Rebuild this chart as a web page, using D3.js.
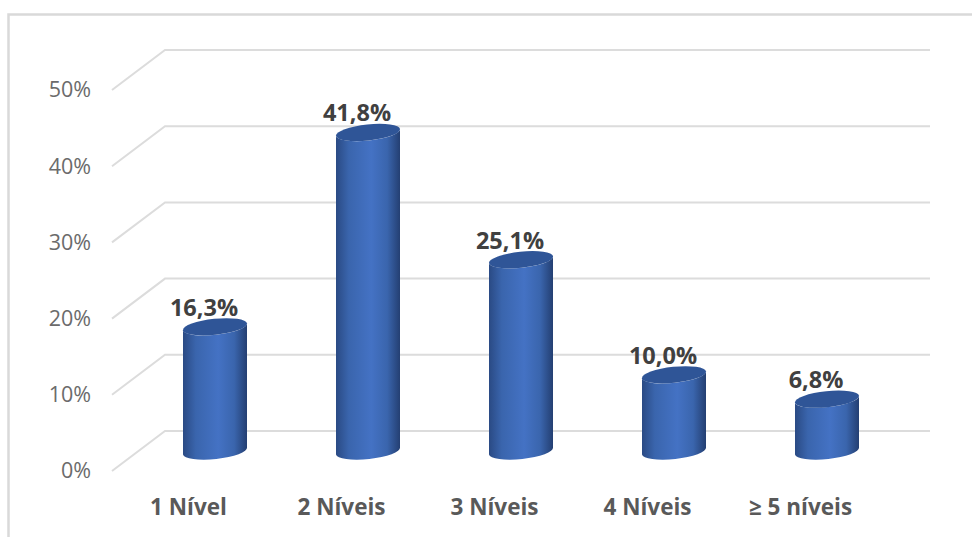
<!DOCTYPE html>
<meta charset="utf-8">
<style>
  body { margin: 0; background: #fff; }
  text { font-family: "Open Sans", "Noto Sans", sans-serif; }
</style>

<!-- Load d3.js -->
<script src="https://d3js.org/d3.v7.min.js"></script>

<div id="my_dataviz"></div>
<script>

// data
var categories = ["1 Nível", "2 Níveis", "3 Níveis", "4 Níveis", "≥ 5 níveis"];
var values = [16.3, 41.8, 25.1, 10.0, 6.8];
var valueLabels = ["16,3%", "41,8%", "25,1%", "10,0%", "6,8%"];
var yTicks = [0, 10, 20, 30, 40, 50];

var width = 972, height = 537;

// floor of the 3D box: front edge is where the axes sit, the wall is pushed back by depth
var depth = {x: 53, y: -40};
var front = {left: 112, right: 877, bottom: 471, top: 90};

var svg = d3.select("#my_dataviz")
  .append("svg")
    .attr("width", width)
    .attr("height", height)
    .style("display", "block");

// chart frame, runs off the right and bottom of the page
svg.append("path")
    .attr("d", "M8.5," + height + "V14.5H" + width)
    .attr("fill", "none")
    .attr("stroke", "#d9d9d9")
    .attr("stroke-width", 2.5);

var x = d3.scaleBand().domain(categories).range([front.left, front.right]);
var y = d3.scaleLinear().domain([0, 50]).range([front.bottom, front.top]);

// gridlines: short diagonal on the side wall, then along the back wall
svg.selectAll("path.grid")
  .data(yTicks)
  .enter()
  .append("path")
    .attr("class", "grid")
    .attr("d", function(d) {
      return "M" + front.left + "," + y(d)
        + "L" + (front.left + depth.x) + "," + (y(d) + depth.y)
        + "H" + (front.right + depth.x);
    })
    .attr("fill", "none")
    .attr("stroke", "#dcdcdc")
    .attr("stroke-width", 2);

// y axis
var yAxis = svg.append("g")
    .attr("transform", "translate(" + (front.left - 13) + ",0)")
    .call(d3.axisLeft(y).tickValues(yTicks).tickSize(0).tickPadding(8)
      .tickFormat(function(d) { return d + "%"; }));
yAxis.select(".domain").remove();
yAxis.selectAll("text")
    .attr("fill", "#6b6b6b")
    .style("font-size", "21.5px")
    .style("font-family", "'Open Sans', sans-serif");

// x axis
var xAxis = svg.append("g")
    .attr("transform", "translate(0," + 491 + ")")
    .call(d3.axisBottom(x).tickSize(0).tickPadding(0));
xAxis.select(".domain").remove();
xAxis.selectAll("text")
    .attr("y", 24)
    .attr("dy", 0)
    .attr("fill", "#595959")
    .style("font-size", "22.5px")
    .style("font-weight", "bold")
    .style("font-family", "'Open Sans', sans-serif");

// shading of the cylinder sides
var defs = svg.append("defs");
var grad = defs.append("linearGradient").attr("id", "side");
grad.append("stop").attr("offset", "0%").attr("stop-color", "#2a4a84");
grad.append("stop").attr("offset", "20%").attr("stop-color", "#3a65ad");
grad.append("stop").attr("offset", "55%").attr("stop-color", "#4472c4");
grad.append("stop").attr("offset", "80%").attr("stop-color", "#3a65ad");
grad.append("stop").attr("offset", "100%").attr("stop-color", "#243f72");

// cylinders stand halfway between the front edge and the wall
var radius = 32, minor = 8, tilt = -6, rise = 3.5;
function cx(i) { return x(categories[i]) + x.bandwidth() / 2 + depth.x / 2; }
function cy(v) { return y(v) + depth.y / 2; }

var bars = svg.selectAll("g.bar")
  .data(values)
  .enter()
  .append("g")
    .attr("class", "bar");

bars.append("path")
    .attr("d", function(d, i) {
      var l = cx(i) - radius, r = cx(i) + radius;
      var arc = "A" + radius + "," + minor + " " + tilt + " 0 ";
      return "M" + l + "," + (cy(d) + rise)
        + "L" + l + "," + (cy(0) + rise)
        + arc + "0 " + r + "," + (cy(0) - rise)
        + "L" + r + "," + (cy(d) - rise)
        + arc + "1 " + l + "," + (cy(d) + rise) + "Z";
    })
    .attr("fill", "url(#side)");

bars.append("ellipse")
    .attr("rx", radius + 0.2)
    .attr("ry", minor)
    .attr("transform", function(d, i) {
      return "translate(" + cx(i) + "," + cy(d) + ") rotate(" + tilt + ")";
    })
    .attr("fill", "#2f5597");

// value labels
svg.selectAll("text.value")
  .data(values)
  .enter()
  .append("text")
    .attr("class", "value")
    .attr("x", function(d, i) { return cx(i) - 11; })
    .attr("y", function(d) { return cy(d) - 11; })
    .attr("text-anchor", "middle")
    .attr("fill", "#404040")
    .style("font-size", "23.5px")
    .style("font-weight", "bold")
    .text(function(d, i) { return valueLabels[i]; });

</script>
